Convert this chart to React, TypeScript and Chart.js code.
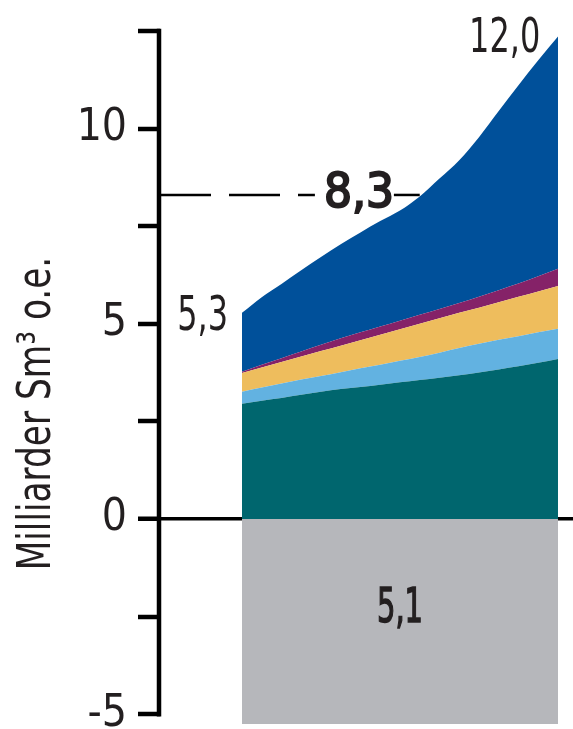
import React, { useEffect, useRef } from "react";
import { Chart, registerables } from "chart.js";

Chart.register(...registerables);

// ---- data ----
const positions = [0, 1, 2, 3, 4, 5, 6, 7, 8, 9, 10, 11, 12, 13, 14, 15, 16];
const tealSeries = [2.95, 3.03, 3.10, 3.18, 3.26, 3.33, 3.38, 3.44, 3.50, 3.56, 3.62, 3.68, 3.75, 3.83, 3.91, 4.00, 4.10];
const lightBlueSeries = [0.31, 0.34, 0.37, 0.39, 0.40, 0.43, 0.48, 0.51, 0.55, 0.59, 0.64, 0.70, 0.74, 0.76, 0.77, 0.78, 0.77];
const yellowSeries = [0.48, 0.51, 0.55, 0.59, 0.64, 0.68, 0.72, 0.77, 0.81, 0.85, 0.88, 0.90, 0.92, 0.96, 1.01, 1.05, 1.10];
const purpleSeries = [0.03, 0.07, 0.10, 0.13, 0.16, 0.19, 0.20, 0.21, 0.22, 0.23, 0.24, 0.25, 0.28, 0.31, 0.34, 0.39, 0.44];
const blueSeries = [1.51, 1.73, 1.90, 2.08, 2.25, 2.41, 2.56, 2.70, 2.82, 3.03, 3.34, 3.66, 4.09, 4.59, 5.08, 5.53, 5.95];
const greySeries = [-5.25, -5.25, -5.25, -5.25, -5.25, -5.25, -5.25, -5.25, -5.25, -5.25, -5.25, -5.25, -5.25, -5.25, -5.25, -5.25, -5.25];

const yTickValues = [-5, -2.5, 0, 2.5, 5, 7.5, 10, 12.5];
const yTitle = "Milliarder Sm³ o.e.";
const refLevel = 8.3;
const refLabel = "8,3";
const startLabel = "5,3";
const endLabel = "12,0";
const negLabel = "5,1";

const FONT = '"Liberation Sans Narrow", "DejaVu Sans Condensed", "Roboto Condensed", "Liberation Sans", sans-serif';
const TEXT = "#231f20";

function drawScaled(ctx: any, text: string, x: number, y: number, sx: number, stroke = 0) {
  ctx.save();
  ctx.translate(x, y);
  ctx.scale(sx, 1);
  ctx.fillText(text, 0, 0);
  if (stroke > 0) {
    ctx.lineWidth = stroke;
    ctx.strokeStyle = ctx.fillStyle;
    ctx.setLineDash([]);
    ctx.strokeText(text, 0, 0);
  }
  ctx.restore();
}

const annotate = {
  id: "annotate",
  afterDraw(chart: any) {
    const { ctx, chartArea } = chart;
    const xs = chart.scales.x;
    const ys = chart.scales.y;
    const left = chartArea.left;
    ctx.save();
    // vertical axis line
    ctx.strokeStyle = "#000";
    ctx.lineWidth = 4.5;
    ctx.beginPath();
    ctx.moveTo(left - 1, ys.getPixelForValue(12.5) - 2.25);
    ctx.lineTo(left - 1, ys.getPixelForValue(-5) + 2.25);
    ctx.stroke();

    // reference dashed line with label
    const yr = ys.getPixelForValue(refLevel);
    ctx.font = `48px ${FONT}`;
    const sRef = 70 / ctx.measureText(refLabel).width;
    const tw = 72;
    const tx = xs.getPixelForValue(5.92);
    const tl = tx - tw / 2;
    const tr = tx + tw / 2;
    ctx.lineWidth = 2.5;
    ctx.setLineDash([51, 18]);
    ctx.beginPath();
    ctx.moveTo(left, yr);
    ctx.lineTo(tl - 8, yr);
    ctx.stroke();
    ctx.setLineDash([]);
    ctx.beginPath();
    ctx.moveTo(tr - 1, yr);
    ctx.lineTo(xs.getPixelForValue(9), yr);
    ctx.stroke();
    ctx.fillStyle = TEXT;
    ctx.textAlign = "center";
    ctx.textBaseline = "middle";
    drawScaled(ctx, refLabel, tx, yr, sRef, 2);

    // negative label (medium weight)
    const sNeg = 46 / ctx.measureText(negLabel).width;
    drawScaled(ctx, negLabel, xs.getPixelForValue(8), ys.getPixelForValue(-2.31), sNeg, 1.5);

    // value labels
    const sVal = 0.74;
    ctx.textBaseline = "alphabetic";
    ctx.textAlign = "right";
    drawScaled(ctx, startLabel, xs.getPixelForValue(0) - 14, ys.getPixelForValue(4.85), sVal);
    drawScaled(ctx, endLabel, xs.getPixelForValue(15.1), ys.getPixelForValue(11.95), sVal);

    // axis title
    ctx.font = `46px ${FONT}`;
    ctx.translate(left - 122, ys.getPixelForValue(2.7));
    ctx.rotate(-Math.PI / 2);
    ctx.scale(0.83, 1);
    ctx.textAlign = "center";
    ctx.textBaseline = "middle";
    ctx.fillText(yTitle, 0, 0);
    ctx.restore();
  },
};

export default function App() {
  const ref = useRef<HTMLCanvasElement>(null);
  useEffect(() => {
    const pts = (arr: number[]) => positions.map((p, i) => ({ x: p, y: arr[i] }));
    const base = {
      pointRadius: 0,
      borderWidth: 0,
      cubicInterpolationMode: "monotone" as const,
      stack: "pos",
    };
    const chart = new Chart(ref.current!, {
      type: "line",
      data: {
        datasets: [
          { ...base, label: "teal", data: pts(tealSeries), backgroundColor: "#00666e", borderColor: "#00666e", fill: "origin" },
          { ...base, label: "lightblue", data: pts(lightBlueSeries), backgroundColor: "#62b2e1", borderColor: "#62b2e1", fill: "-1" },
          { ...base, label: "yellow", data: pts(yellowSeries), backgroundColor: "#eebd5d", borderColor: "#eebd5d", fill: "-1" },
          { ...base, label: "purple", data: pts(purpleSeries), backgroundColor: "#852268", borderColor: "#852268", fill: "-1" },
          { ...base, label: "blue", data: pts(blueSeries), backgroundColor: "#00509a", borderColor: "#00509a", fill: "-1" },
          { ...base, stack: "neg", label: "grey", data: pts(greySeries), backgroundColor: "#b6b7bb", borderColor: "#b6b7bb", fill: "origin", cubicInterpolationMode: "default", tension: 0 },
        ],
      },
      options: {
        animation: false,
        responsive: false,
        maintainAspectRatio: false,
        layout: { padding: { top: 31, left: 0, right: 0, bottom: 0 } },
        plugins: { legend: { display: false }, tooltip: { enabled: false } },
        scales: {
          x: { type: "linear", display: false, min: -4.15, max: 16.76 },
          y: {
            stacked: true,
            min: -5.38,
            max: 12.5,
            z: 1,
            border: { display: false },
            afterBuildTicks: (scale: any) => {
              scale.ticks = yTickValues.map((v) => ({ value: v }));
            },
            afterFit: (scale: any) => {
              scale.width = 160;
              scale.paddingTop = 0;
              scale.paddingBottom = 0;
            },
            ticks: {
              autoSkip: false,
              padding: 11,
              color: TEXT,
              font: { family: FONT, size: 44 },
              callback: (v: any) => (Number(v) % 5 === 0 ? String(v) : ""),
            },
            grid: {
              drawOnChartArea: true,
              drawTicks: true,
              tickLength: 22,
              tickWidth: 4.5,
              tickColor: "#000",
              lineWidth: (c: any) => (c.tick && c.tick.value === 0 ? 3.5 : 0),
              color: (c: any) => (c.tick && c.tick.value === 0 ? "#000" : "rgba(0,0,0,0)"),
            },
          },
        },
      },
      plugins: [annotate],
    });
    return () => chart.destroy();
  }, []);
  return (
    <div style={{ position: "fixed", left: 0, top: 0, width: 573, height: 729, background: "#fff" }}>
      <canvas ref={ref} width={573} height={729} style={{ display: "block" }} />
    </div>
  );
}
